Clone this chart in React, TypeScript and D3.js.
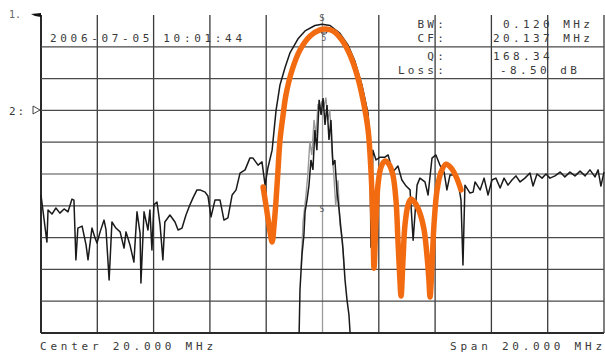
import React from 'react';
import * as d3 from 'd3';

// Trace 1: broadband noise + filter response (MHz, dB)
const traceFreq = [
  10.00, 10.21, 10.25, 10.39, 10.53, 10.67, 10.82, 10.96, 11.10, 11.17, 11.24, 11.31, 11.46, 11.60, 11.67,
  11.81, 11.92, 11.99, 12.10, 12.24, 12.31, 12.42, 12.52, 12.66, 12.81, 12.95, 13.02, 13.16, 13.30, 13.41,
  13.52, 13.55, 13.66, 13.80, 13.87, 13.94, 14.01, 14.12, 14.23, 14.33, 14.40, 14.58, 14.76, 14.87, 15.01,
  15.15, 15.29, 15.40, 15.54, 15.65, 15.83, 15.93, 16.04, 16.18, 16.36, 16.50, 16.64, 16.79, 16.93, 17.07,
  17.25, 17.42, 17.53, 17.71, 17.85, 17.96, 18.06, 18.21, 18.35, 18.49, 18.67, 18.84, 19.13, 19.38, 19.73,
  19.98, 20.27, 20.62, 20.91, 21.15, 21.40, 21.62, 21.69, 21.72, 21.79, 21.90, 22.04, 22.22, 22.33, 22.43,
  22.50, 22.68, 22.82, 22.97, 23.11, 23.22, 23.36, 23.46, 23.64, 23.75, 23.89, 24.03, 24.17, 24.32, 24.42,
  24.53, 24.71, 24.81, 24.92, 24.99, 25.06, 25.24, 25.35, 25.42, 25.60, 25.74, 25.88, 26.02, 26.16, 26.31,
  26.45, 26.59, 26.73, 26.87, 27.02, 27.19, 27.37, 27.48, 27.62, 27.80, 27.94, 28.08, 28.26, 28.44, 28.61,
  28.79, 28.97, 29.15, 29.33, 29.50, 29.68, 29.79, 29.89, 30.00,
];
const traceLevel = [
  -56.6, -71.4, -61.3, -62.6, -60.7, -62.3, -61.0, -61.9, -57.9, -58.2, -77.0, -67.0, -66.4, -72.3, -77.0,
  -67.0, -70.1, -71.7, -68.2, -64.5, -67.6, -83.3, -65.1, -67.0, -68.2, -73.3, -68.2, -72.3, -77.7, -61.9,
  -68.6, -84.3, -61.9, -67.6, -61.3, -73.9, -59.7, -58.8, -66.0, -77.0, -65.1, -62.9, -65.1, -67.6, -67.0,
  -62.9, -59.7, -57.5, -55.0, -55.0, -55.7, -56.9, -63.5, -58.2, -58.2, -64.5, -63.8, -56.6, -55.0, -49.7,
  -48.7, -45.0, -45.0, -47.2, -46.2, -53.5, -48.1, -42.5, -30.0, -22.0, -16.5, -12.0, -7.5, -5.0, -3.3,
  -2.9, -3.3, -5.8, -9.5, -14.5, -22.0, -31.0, -42.5, -73.0, -42.5, -45.6, -44.7, -44.7, -44.0, -47.2,
  -49.4, -47.5, -51.9, -53.8, -55.0, -70.8, -53.5, -51.3, -52.5, -56.6, -45.0, -44.0, -47.2, -49.4, -55.0,
  -50.3, -50.3, -51.9, -58.2, -78.6, -53.5, -56.0, -55.7, -52.5, -55.0, -51.3, -56.6, -51.9, -51.3, -54.4,
  -51.3, -53.5, -51.9, -50.6, -52.5, -51.3, -49.7, -53.8, -50.0, -51.3, -50.0, -51.3, -50.6, -49.4, -50.9,
  -49.4, -50.6, -49.1, -50.6, -48.7, -50.9, -48.7, -53.8, -49.4,
];

// Trace 2: narrow carrier at centre
const spikeFreq = [
  19.17, 19.20, 19.27, 19.34, 19.38, 19.45, 19.52, 19.59, 19.66, 19.73, 19.80, 19.88, 19.95, 20.02,
  20.09, 20.16, 20.23, 20.30, 20.37, 20.44, 20.51, 20.59, 20.66, 20.73, 20.80, 20.87, 20.94, 20.98,
];
const spikeLevel = [
  -100, -86.5, -75.5, -69.2, -61.9, -58.2, -53.5, -45.6, -48.7, -36.2, -42.5, -26.7, -31.4, -26.1,
  -34.6, -28.3, -39.3, -33.0, -47.2, -45.6, -55.0, -61.3, -67.6, -73.9, -83.3, -89.6, -94.3, -100,
];
const spikeGrayFreq = [
  19.24, 19.31, 19.41, 19.48, 19.55, 19.62, 19.70, 19.77, 19.84, 19.91, 19.98,
  20.05, 20.12, 20.19, 20.26, 20.33, 20.40, 20.47, 20.55, 20.62, 20.70, 20.77,
];
const spikeGrayLevel = [
  -80, -65, -57, -50, -40, -44, -33, -38, -28, -30, -27,
  -29, -26, -33, -30, -42, -50, -60, -52, -66, -70, -80,
];

// Orange overlay: modelled filter response
const modelFreq = [
  17.89, 17.99, 18.10, 18.21, 18.28, 18.35, 18.42, 18.49, 18.60, 18.70, 18.92, 19.20, 19.56, 19.91,
  20.12, 20.37, 20.69, 20.98, 21.23, 21.44, 21.62, 21.72, 21.79, 21.83, 21.90, 21.97, 22.08, 22.22,
  22.36, 22.50, 22.61, 22.68, 22.75, 22.79, 22.86, 22.93, 23.04, 23.14, 23.29, 23.46, 23.61, 23.71,
  23.78, 23.82, 23.89, 23.96, 24.07, 24.21, 24.39, 24.57, 24.75, 24.92,
];
const modelLevel = [
  -54.1, -59.7, -66.0, -71.4, -66.0, -58.2, -48.7, -39.3, -31.4, -25.2, -17.3, -11.0, -6.6, -4.7,
  -4.4, -5.0, -7.9, -12.6, -18.9, -26.7, -36.2, -48.7, -64.5, -79.6, -64.5, -53.5, -47.8, -45.9,
  -46.9, -50.3, -58.2, -70.8, -83.3, -88.4, -77.0, -66.0, -59.7, -57.9, -59.1, -62.3, -67.6, -75.5,
  -83.3, -88.7, -78.6, -66.0, -55.0, -49.4, -46.9, -48.1, -50.9, -55.0,
];

const freqTicks = [10, 12, 14, 16, 18, 20, 22, 24, 26, 28, 30];
const levelTicks = [-10, -20, -30, -40, -50, -60, -70, -80, -90, -100];

const infoLabels = ['BW:', 'CF:', 'Q:', 'Loss:'];
const infoValues = ['0.120 MHz', '20.137 MHz', '168.34', '-8.50 dB'];

const App: React.FC = () => {
  const width = 605;
  const height = 353;
  const margin = { top: 15, right: 1, bottom: 20, left: 41 };

  const x = d3.scaleLinear().domain([10, 30]).range([margin.left, width - margin.right]);
  const y = d3.scaleLinear().domain([0, -100]).range([margin.top, height - margin.bottom]);

  const line = d3.line<[number, number]>().x(d => x(d[0])).y(d => y(d[1]));
  const smooth = d3.line<[number, number]>().x(d => x(d[0])).y(d => y(d[1])).curve(d3.curveCatmullRom);

  const trace = traceFreq.map((f, i) => [f, traceLevel[i]] as [number, number]);
  const spike = spikeFreq.map((f, i) => [f, spikeLevel[i]] as [number, number]);
  const spikeGray = spikeGrayFreq.map((f, i) => [f, spikeGrayLevel[i]] as [number, number]);
  const model = modelFreq.map((f, i) => [f, modelLevel[i]] as [number, number]);

  const font = "'DejaVu Sans Mono', monospace";
  const txt = '#3a3a3a';
  const rowY = [28, 42, 60, 74];

  return (
    <svg width={width} height={height} style={{ position: 'absolute', left: 0, top: 0, background: '#fff' }}>
      {/* grid */}
      {freqTicks.map(f => (
        <line key={'v' + f} x1={x(f)} x2={x(f)} y1={y(0)} y2={y(-100)}
          stroke={f === 20 ? '#9a9a9a' : f === 10 ? '#2a2a2a' : '#3a3a3a'} strokeWidth={f === 10 ? 2 : 1.3} />
      ))}
      {levelTicks.map(l => (
        <line key={'h' + l} x1={x(10)} x2={x(30)} y1={y(l)} y2={y(l)}
          stroke={l === -100 ? '#2a2a2a' : '#4a4a4a'} strokeWidth={l === -100 ? 1.8 : 1.2} />
      ))}

      {/* header texts */}
      <text x={50} y={42} fontFamily={font} fontSize={11} fill={txt} textLength={192} lengthAdjust="spacing">2006-07-05 10:01:44</text>
      {infoLabels.map((s, i) => (
        <text key={s} x={447} y={rowY[i]} fontFamily={font} fontSize={11} fill={txt} textAnchor="end" letterSpacing={3.2}>{s}</text>
      ))}
      {infoValues.map((s, i) => (
        <text key={s} x={[503, 493, 493, 500][i]} y={rowY[i]} fontFamily={font} fontSize={11} fill={txt} letterSpacing={3.4}>{s}</text>
      ))}

      {/* reference markers */}
      <text x={9} y={18} fontFamily={font} fontSize={10} fill="#666">1.</text>
      <polygon points="31,14 41,13 41,17 35,16" fill="#111" />
      <text x={9} y={115} fontFamily={font} fontSize={11} fill={txt} letterSpacing={2}>2:</text>
      <polygon points="33,106 40,110 33,114" fill="#fff" stroke="#444" strokeWidth={1} />

      {/* traces */}
      <path d={line(spikeGray) || ''} fill="none" stroke="#999" strokeWidth={1.4} />
      <path d={line(spike) || ''} fill="none" stroke="#1a1a1a" strokeWidth={1.5} />
      <path d={line(trace) || ''} fill="none" stroke="#1a1a1a" strokeWidth={1.5} strokeLinejoin="round"
        strokeDasharray={undefined} />

      {/* marker glyphs */}
      <text x={322} y={21} fontFamily={font} fontSize={9} fill="#555" textAnchor="middle">S</text>
      <polygon points="321,33 324,27 327,33" fill="none" stroke="#333" strokeWidth={1} />
      <text x={324} y={41} fontFamily={font} fontSize={8} fill="#555" textAnchor="middle">5</text>
      <text x={322} y={212} fontFamily={font} fontSize={8} fill="#555" textAnchor="middle">S</text>

      {/* orange overlay */}
      <path d={smooth(model) || ''} fill="none" stroke="#f36b10" strokeWidth={5.5}
        strokeLinecap="round" strokeLinejoin="round" />

      {/* footer */}
      <text x={40} y={350} fontFamily={font} fontSize={11} fill={txt} textLength={173} lengthAdjust="spacing">Center 20.000 MHz</text>
      <text x={450} y={350} fontFamily={font} fontSize={11} fill={txt} textLength={152} lengthAdjust="spacing">Span 20.000 MHz</text>
    </svg>
  );
};

export default App;
